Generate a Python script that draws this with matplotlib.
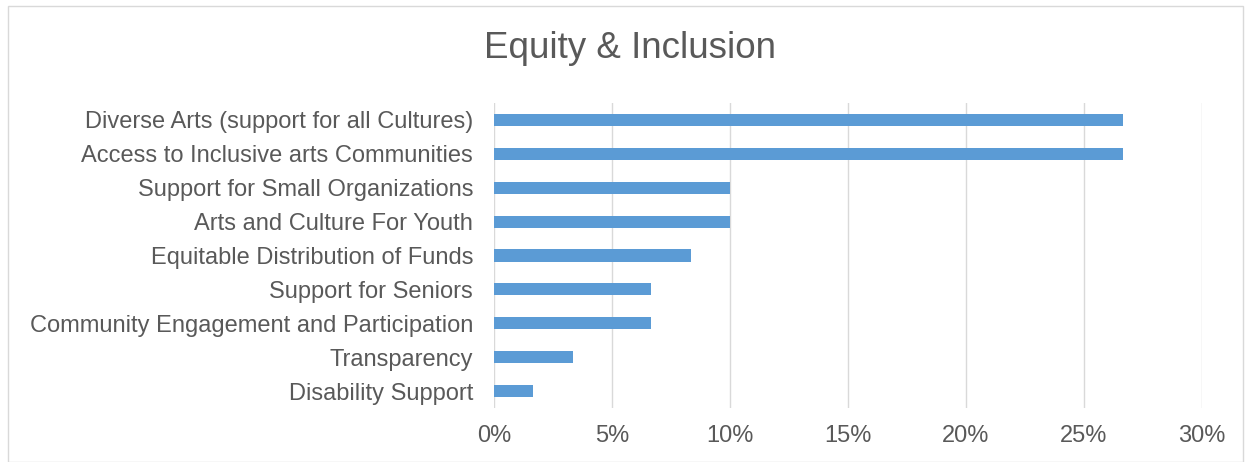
import matplotlib.pyplot as plt
from matplotlib.patches import Rectangle
from matplotlib.ticker import FuncFormatter

categories = [
    "Diverse Arts (support for all Cultures)",
    "Access to Inclusive arts Communities",
    "Support for Small Organizations",
    "Arts and Culture For Youth",
    "Equitable Distribution of Funds",
    "Support for Seniors",
    "Community Engagement and Participation",
    "Transparency",
    "Disability Support",
]
shares = [0.2667, 0.2667, 0.10, 0.10, 0.0833, 0.0667, 0.0667, 0.0333, 0.0167]
x_ticks = [0, 0.05, 0.10, 0.15, 0.20, 0.25, 0.30]

plt.rcParams['font.family'] = ['Liberation Sans', 'DejaVu Sans']
text_color = '#595959'

fig = plt.figure(figsize=(12.53, 4.62), dpi=100)
ax = fig.add_axes([0.3943, 0.1169, 0.5650, 0.6601])

pos = list(range(len(categories)))[::-1]
ax.barh(pos, shares, height=0.36, color='#5B9BD5', zorder=3)

ax.set_xlim(0, 0.30)
ax.set_ylim(-0.5, len(categories) - 0.5)
ax.set_xticks(x_ticks)
ax.xaxis.set_major_formatter(FuncFormatter(lambda v, p: f"{v * 100:.0f}%"))
ax.set_yticks(pos)
ax.set_yticklabels(categories)
ax.tick_params(axis='both', length=0, labelsize=17, colors=text_color)
ax.tick_params(axis='x', pad=12)
ax.tick_params(axis='y', pad=15)
ax.grid(axis='x', color='#D9D9D9', linewidth=1, zorder=0)
for s in ax.spines.values():
    s.set_visible(False)

fig.text(0.503, 0.895, "Equity & Inclusion", ha='center', va='center',
         fontsize=26.5, color=text_color)

# light frame around the chart area
fig.patches.append(Rectangle((8 / 1253, 0), 1235 / 1253, 456 / 462,
                             transform=fig.transFigure, fill=False,
                             edgecolor='#D9D9D9', linewidth=1))

fig.savefig("out.png", dpi=100)
